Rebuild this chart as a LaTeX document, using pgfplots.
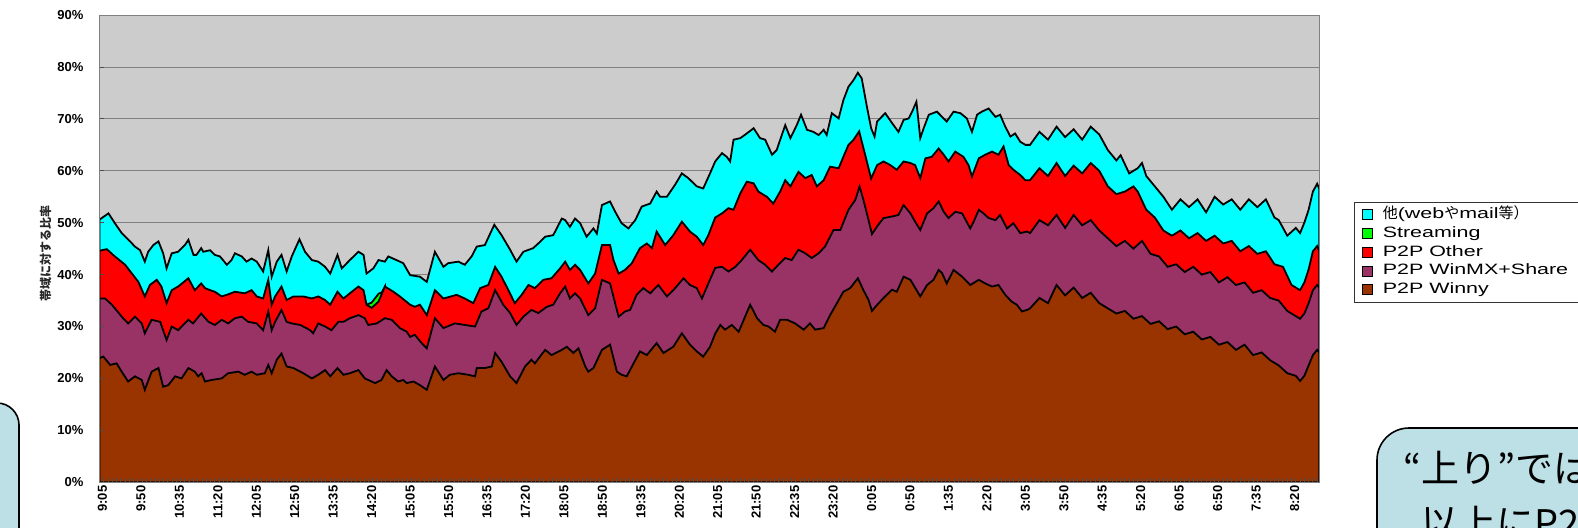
\documentclass[border=0pt]{standalone}
\usepackage{fontspec}
\usepackage{pgfplots}
\pgfplotsset{compat=1.18}
\setmainfont{Liberation Sans}
\newfontfamily\cjk{Noto Sans CJK JP}
\newfontfamily\legfont[FakeStretch=1.43]{Liberation Sans}
\definecolor{cyanA}{RGB}{0,255,255}
\definecolor{greenA}{RGB}{0,255,0}
\definecolor{redA}{RGB}{255,0,0}
\definecolor{purpleA}{RGB}{153,51,102}
\definecolor{brownA}{RGB}{153,51,0}
\definecolor{plotbg}{RGB}{204,204,204}
\definecolor{gridgray}{RGB}{128,128,128}
\definecolor{callout}{RGB}{189,224,230}
\pgfplotsset{
  myframe/.style={
    at={(49.75pt,22.4pt)}, anchor=south west,
    scale only axis, width=609.9pt, height=233.55pt,
    xmin=0, xmax=285.5, ymin=0, ymax=90,
  }
}
\begin{document}
\begin{tikzpicture}
\begin{scope}[x=0.5pt,y=0.5pt]
\clip (0,0) rectangle (1578,527);
\draw[black, line width=0.8pt, fill=callout, rounded corners=11pt] (-60,124) rectangle (19,-60);
\draw[black, line width=0.8pt, fill=callout, rounded corners=16pt] (1377,99) rectangle (1700,-60);
\node[anchor=base west, inner sep=0pt, font=\cjk\fontsize{19}{23}\selectfont] at (1403,45) {“上り”では};
\node[anchor=base west, inner sep=0pt, font=\cjk\fontsize{19}{23}\selectfont] at (1420,-10) {以上にP2P};
\end{scope}
% axis 1: background, grid, areas, legend
\begin{axis}[
  myframe,
  axis background/.style={fill=plotbg},
  axis line style={draw=none},
  ytick={0,10,...,90}, yticklabels={}, xtick=\empty,
  major tick length=0pt,
  ymajorgrids, grid style={draw=gridgray, line width=0.5pt},
  legend cell align=left,
  legend image code/.code={\draw[#1, draw=black, line width=0.5pt] (0pt,-2.5pt) rectangle (5pt,2.5pt);},
  legend style={at={(axis description cs:1.0287,0.6005)}, anchor=north west,
    draw=black!80, line width=0.5pt, fill=white, font=\legfont\fontsize{7.5}{8.5}\selectfont,
    inner xsep=3.5pt, inner ysep=1.5pt, row sep=0pt,
    /tikz/every odd column/.append style={column sep=4pt},
    nodes={inner sep=1pt, text height=5.6pt, text depth=1.8pt}},
]
% total (other traffic) top
\addplot[fill=cyanA, draw=black, line width=0.9pt] coordinates {
(0,50.6) (2.1,51.8) (3.6,49.9) (5.2,48.0) (6.8,46.7) (8.3,45.4) (9.5,44.7) (10.6,42.5) (11.4,44.4) (12.6,45.7)
(13.8,46.4) (14.9,44.1) (15.7,41.2) (16.9,44.1) (18.4,44.4) (20.0,45.7) (20.8,46.7) (22.0,43.8) (22.7,43.8) (23.8,45.1)
(24.3,44.4) (25.9,44.7) (27.0,43.8) (28.2,43.5) (29.8,41.9) (30.9,42.8) (31.7,44.1) (33.3,43.5) (34.4,42.5) (35.6,43.1)
(36.8,42.5) (38.3,40.6) (39.5,44.7) (40.3,39.6) (41.5,42.5) (42.6,43.8) (43.8,40.6) (45.0,43.5) (46.8,46.8) (48.1,44.4)
(49.7,42.8) (51.2,42.5) (52.8,41.5) (54.0,40.2) (55.7,43.8) (56.7,41.2) (58.6,42.8) (60.6,44.4) (61.8,43.8) (62.5,40.2)
(64.1,41.2) (65.3,42.8) (66.8,42.5) (67.6,43.5) (69.5,42.8) (71.1,42.2) (72.7,39.9) (75.0,39.6) (76.6,38.6) (78.5,44.4)
(80.5,41.5) (81.6,42.2) (84.0,42.5) (85.5,41.9) (87.1,43.5) (88.3,45.4) (90.2,45.7) (92.4,49.6) (94.1,47.6) (96.1,44.8)
(97.6,42.5) (99.2,44.4) (101.5,45.1) (102.7,46.0) (104.3,47.3) (106.2,47.6) (108.2,50.8) (109.0,50.5) (110.1,49.2) (111.3,50.8)
(112.5,49.9) (114.0,47.3) (115.6,48.9) (116.4,47.9) (117.6,53.4) (119.5,54.1) (120.7,52.1) (122.2,49.9) (123.8,48.9) (125.4,50.5)
(126.9,53.1) (128.9,53.7) (130.4,56.0) (131.2,55.0) (132.8,55.0) (134.7,57.3) (136.3,59.5) (137.8,58.6) (139.8,57.0) (141.3,56.6)
(142.9,59.5) (144.1,61.8) (145.7,63.4) (146.8,62.7) (147.6,61.8) (148.4,66.0) (150.0,66.3) (151.5,67.2) (153.1,68.2) (154.6,66.3)
(155.8,66.0) (157.4,63.1) (158.5,64.0) (159.7,66.9) (160.5,68.8) (161.7,66.3) (163.2,68.8) (164.2,70.8) (165.6,67.9) (167.1,67.5)
(168.3,66.9) (169.5,67.9) (170.2,66.9) (171.4,71.1) (173.0,70.1) (174.1,73.6) (175.3,76.2) (176.5,77.5) (177.5,78.9) (178.4,77.8)
(179.6,72.4) (180.6,68.2) (181.4,66.6) (182.0,69.5) (183.9,71.1) (185.5,69.2) (187.0,67.5) (188.2,69.8) (189.4,70.1) (190.2,71.4)
(191.2,73.3) (192.1,66.3) (192.9,68.2) (194.1,70.8) (196.0,71.4) (197.2,70.4) (198.3,69.5) (199.9,71.4) (201.5,71.1) (203.0,70.1)
(204.2,67.5) (205.4,70.8) (206.5,71.4) (208.1,72.0) (209.7,70.4) (210.8,70.8) (212.0,68.5) (213.2,66.6) (214.3,67.2) (215.5,65.6)
(216.7,65.0) (217.8,65.0) (220,67.5) (222,66.0) (224,68.5) (226,66.5) (228,68.0) (230,66.0) (232,68.5) (234,67.0)
(236,64.0) (238,62.0) (239,63.0) (241,59.5) (243,60.5) (244,61.5) (245,59.0) (247,57.0) (249,55.0) (251,52.5)
(253,54.5) (255,53.0) (257,54.5) (259,52.0) (261,55.0) (263,53.5) (265,54.5) (267,52.5) (269,54.5) (271,53.0)
(273,54.5) (275,51.0) (276,50.5) (278,47.5) (280,49.0) (281,48.0) (282,50.0) (283,52.5) (284,56.0) (285,57.5) (285.5,56.5)
} \closedcycle;
% streaming (cumulative top), only visible near 14:20
\addplot[fill=greenA, draw=black, line width=0.9pt] coordinates {
(62.5,34.2) (63.7,34.6) (65.3,36.3) (66.1,36.6) (66.8,37.7)
} \closedcycle;
% P2P Other (cumulative top)
\addplot[fill=redA, draw=black, line width=0.9pt] coordinates {
(0,44.6) (1.7,44.9) (3.6,43.5) (6.0,41.9) (7.5,40.3) (9.1,38.6) (10.6,35.8) (11.8,38.0) (13.4,39.0) (14.5,37.7)
(15.7,34.5) (16.9,37.0) (18.4,37.7) (20.8,39.3) (22.3,37.0) (23.8,38.3) (24.7,37.4) (25.9,37.0) (27.0,36.7) (28.6,35.8)
(29.8,36.1) (31.7,36.7) (34.0,36.4) (35.6,37.0) (36.8,35.8) (38.3,35.4) (39.5,39.0) (40.3,34.2) (41.1,35.8) (42.6,37.7)
(43.8,35.1) (45.4,35.8) (47.7,35.8) (49.7,35.4) (51.2,35.8) (52.8,35.1) (54.0,34.2) (55.7,36.7) (57.1,35.4) (58.6,36.4)
(60.6,37.7) (61.8,37.0) (62.5,34.2) (63.7,33.6) (65.3,34.8) (66.8,37.7) (68.8,36.7) (70.3,35.8) (72.7,34.2) (73.8,33.8)
(75.0,34.2) (76.6,32.2) (78.5,37.0) (80.5,35.4) (83.6,36.1) (85.5,35.4) (87.5,34.5) (89.1,37.4) (91.0,38.0) (92.6,41.5)
(94.1,39.6) (95.7,37.0) (97.2,34.5) (98.8,36.1) (100.4,38.0) (101.9,37.4) (103.9,39.0) (105.8,39.3) (107.8,41.2) (109.0,42.5)
(110.1,40.9) (111.3,41.9) (112.5,40.9) (114.4,38.3) (116.0,40.2) (117.6,45.7) (119.5,45.7) (120.3,42.8) (121.5,40.2) (123.0,40.9)
(124.6,42.2) (126.5,45.1) (128.1,46.0) (129.3,45.1) (130.4,48.3) (132.4,45.7) (134.3,47.6) (136.3,50.2) (138.2,48.3) (139.8,47.3)
(141.3,45.7) (142.5,47.6) (144.1,51.0) (145.7,51.8) (147.2,52.8) (148.4,52.5) (150.0,55.7) (151.5,57.9) (153.1,57.6) (154.2,56.0)
(156.2,55.0) (157.7,53.7) (159.3,56.0) (160.5,58.2) (161.7,57.0) (163.6,59.8) (165.2,58.6) (166.7,59.2) (167.9,57.0) (169.5,58.2)
(171.0,60.8) (173.0,60.5) (174.1,62.7) (175.3,65.0) (176.5,66.0) (177.8,67.6) (179.2,63.1) (180.6,58.5) (182.0,61.1) (183.5,61.8)
(185.1,61.1) (186.6,60.2) (188.2,61.8) (189.8,61.5) (190.9,61.1) (192.1,58.6) (193.3,62.4) (194.8,62.7) (196.4,64.3) (197.6,63.1)
(198.7,61.8) (200.3,63.7) (202.2,62.7) (203.4,61.1) (204.2,58.9) (205.8,62.4) (207.3,63.1) (208.9,63.7) (210.4,63.1) (211.6,64.7)
(212.8,61.1) (213.9,60.2) (215.5,59.2) (216.7,58.2) (217.8,58.2) (220,60.5) (222,59.0) (224,61.5) (226,59.0) (228,61.0)
(230,59.5) (232,61.5) (234,60.0) (236,57.0) (238,55.5) (240,56.0) (242,57.0) (243,56.0) (245,52.5) (247,51.0)
(249,48.5) (251,47.5) (253,48.5) (255,47.0) (257,48.0) (259,46.5) (261,47.5) (263,46.0) (265,46.5) (267,44.5)
(269,45.5) (271,44.0) (273,44.5) (275,42.0) (277,41.5) (279,38.0) (281,37.0) (282,38.5) (283,41.0) (284,44.5) (285,45.5) (285.5,44.5)
} \closedcycle;
% P2P WinMX+Share (cumulative top)
\addplot[fill=purpleA, draw=black, line width=0.9pt] coordinates {
(0,35.4) (1.3,35.4) (2.9,34.2) (5.2,31.9) (6.7,30.6) (8.3,31.9) (9.9,30.6) (10.6,28.7) (12.2,31.3) (14.2,30.9)
(15.7,27.4) (16.9,30.0) (18.4,29.3) (20.8,31.3) (21.9,30.6) (23.8,32.5) (25.5,30.9) (27.0,30.3) (28.6,31.3) (30.1,30.6)
(31.7,31.6) (33.3,31.9) (34.8,30.9) (36.8,30.6) (38.3,29.3) (39.5,32.9) (40.3,29.3) (41.1,30.9) (42.6,33.2) (43.8,30.9)
(45.0,30.6) (47.0,30.3) (49.3,29.3) (50.0,28.7) (51.2,30.6) (52.8,30.0) (54.3,29.3) (55.9,30.9) (57.1,30.9) (58.6,31.6)
(60.6,32.2) (62.1,31.6) (62.9,30.3) (64.9,30.6) (66.8,31.6) (68.4,31.3) (70.3,29.7) (71.9,29.0) (72.7,28.0) (73.8,28.4)
(75.4,26.8) (76.6,25.8) (78.5,31.6) (80.5,29.7) (83.2,30.6) (85.5,30.3) (87.9,30.0) (89.4,32.9) (91.0,33.5) (92.6,37.0)
(94.5,34.2) (96.1,32.6) (97.6,30.3) (99.2,31.9) (101.1,33.2) (102.7,32.6) (104.7,33.8) (106.2,34.2) (107.8,36.4) (109.0,37.7)
(110.1,35.4) (111.3,36.4) (112.5,35.4) (114.4,32.2) (116.0,33.5) (117.6,39.0) (119.5,38.3) (121.5,31.9) (123.0,32.9) (124.2,33.2)
(125.7,36.1) (127.3,37.4) (128.9,36.4) (130.8,38.0) (132.8,35.8) (134.3,37.0) (136.7,39.3) (138.2,38.0) (139.8,37.4) (141.0,35.4)
(142.5,38.3) (144.1,41.3) (145.7,41.5) (147.2,40.6) (148.8,41.5) (150.3,42.8) (152.3,44.8) (154.2,42.8) (155.8,41.9) (157.4,40.6)
(158.9,41.9) (160.5,43.2) (162.0,42.8) (163.6,44.8) (165.2,44.1) (166.7,43.2) (168.3,44.1) (169.8,45.4) (171.8,48.6) (173.4,48.6)
(175.3,52.5) (176.9,54.4) (177.9,57.0) (178.8,54.4) (180.0,50.5) (180.8,47.8) (182.0,49.3) (183.5,50.9) (185.5,51.2) (187.0,51.5)
(188.2,53.4) (189.8,51.8) (190.9,50.2) (192.1,48.6) (193.7,51.8) (195.2,52.8) (196.4,54.1) (197.6,52.1) (198.7,50.9) (200.3,52.1)
(201.9,51.8) (203.8,48.9) (204.6,50.2) (205.8,52.5) (206.9,51.8) (208.1,50.9) (209.7,50.5) (210.8,51.5) (212.4,48.9) (213.9,49.9)
(215.5,48.0) (217.1,48.3) (217.8,48.0) (220,50.5) (222,49.5) (224,51.5) (226,49.0) (228,51.5) (230,49.5) (232,50.5)
(234,48.5) (236,47.0) (238,45.5) (240,46.5) (242,45.0) (244,46.5) (246,44.0) (248,43.5) (250,41.5) (252,42.0)
(254,40.5) (256,41.5) (258,40.0) (260,40.5) (262,38.5) (264,39.5) (266,38.0) (268,38.5) (270,36.5) (272,37.0)
(274,35.5) (276,35.0) (278,33.0) (280,32.0) (281,31.5) (282,32.5) (283,34.5) (284,37.0) (285,38.0) (285.5,37.5)
} \closedcycle;
% P2P Winny
\addplot[fill=brownA, draw=black, line width=0.9pt] coordinates {
(0,23.9) (0.9,24.2) (2.5,22.6) (4.0,22.9) (5.2,21.3) (6.7,19.4) (8.3,20.4) (9.9,19.7) (10.6,17.8) (12.2,21.3)
(13.8,22.0) (14.9,18.4) (16.1,18.7) (17.7,20.4) (19.2,20.0) (20.8,22.0) (22.3,21.3) (23.1,20.4) (23.9,21.0) (24.7,19.4)
(26.2,19.7) (28.6,20.0) (30.1,21.0) (32.5,21.3) (34.0,20.7) (35.6,21.3) (36.8,20.7) (38.7,21.0) (39.5,22.6) (40.3,21.0)
(41.5,23.6) (42.6,24.8) (43.8,22.3) (45.4,22.0) (47.7,21.0) (49.7,20.0) (51.2,20.7) (52.8,21.6) (54.0,20.4) (55.7,22.0)
(57.1,20.7) (58.6,21.0) (60.6,21.6) (62.1,20.0) (64.5,19.1) (66.0,19.7) (67.2,21.6) (68.4,20.4) (69.9,19.4) (71.1,19.7)
(71.9,19.1) (73.5,19.4) (75.0,18.7) (76.6,17.8) (78.5,22.3) (80.5,19.7) (82.0,20.7) (84.0,21.0) (86.3,20.7) (87.9,20.4)
(88.3,22.0) (90.2,22.0) (91.8,22.3) (92.6,24.9) (94.1,23.2) (96.1,20.4) (97.6,19.1) (99.6,22.3) (101.1,23.6) (101.9,22.9)
(104.3,25.5) (105.8,24.5) (108.2,25.5) (109.4,26.1) (110.9,24.9) (112.1,25.8) (113.7,22.3) (114.4,21.3) (115.6,22.0) (117.6,25.5)
(119.5,26.5) (121.1,21.3) (122.2,20.7) (123.4,20.4) (125.0,22.9) (126.5,25.2) (128.1,24.5) (130.4,26.8) (132.0,24.9) (134.3,26.1)
(136.3,28.7) (138.2,26.5) (139.8,25.2) (141.3,24.2) (142.9,26.1) (144.1,28.6) (145.3,30.3) (146.4,29.4) (148.0,30.3) (149.6,29.0)
(151.1,31.9) (152.3,34.2) (153.9,31.6) (155.4,30.3) (156.6,30.0) (158.1,29.0) (159.3,31.3) (160.9,31.3) (162.8,30.6) (164.8,29.4)
(166.3,30.6) (167.5,29.4) (169.5,29.7) (171.0,32.2) (172.6,34.5) (174.1,36.7) (175.7,37.4) (177.5,39.3) (178.8,37.0) (180.0,35.1)
(180.8,33.0) (181.6,33.8) (183.5,35.5) (185.5,37.1) (186.6,36.7) (188.2,39.6) (189.8,39.0) (192.1,35.8) (193.7,38.0) (195.2,39.0)
(196.4,40.9) (197.2,40.3) (198.3,38.3) (199.9,40.9) (201.9,39.6) (203.8,38.0) (205.8,39.0) (207.3,38.3) (208.9,37.7) (210.4,38.0)
(212.0,36.1) (213.5,34.8) (214.7,34.2) (215.9,32.9) (217.1,33.2) (217.8,33.5) (220,35.5) (222,34.5) (224,38.0) (226,36.0)
(228,37.5) (230,35.5) (232,36.5) (234,34.5) (236,33.5) (238,32.5) (240,33.0) (242,31.5) (244,32.0) (246,30.5)
(248,31.0) (250,29.5) (252,30.0) (254,28.5) (256,29.0) (258,27.5) (260,28.0) (262,26.5) (264,27.0) (266,25.5)
(268,26.5) (270,24.5) (272,25.0) (274,23.5) (276,22.5) (278,21.0) (280,20.5) (281,19.5) (282,20.5) (283,22.5) (284,24.5) (285,25.5) (285.5,25.0)
} \closedcycle;
\legend{{\cjk 他}(web{\cjk や}mail{\cjk 等）},Streaming,P2P Other,{P2P WinMX+Share\hspace*{20pt}},P2P Winny}
\end{axis}
% axis 2: frame, ticks and labels on top of the areas
\begin{axis}[
  myframe,
  axis line style={draw=gridgray, line width=0.6pt},
  ytick={0,10,...,90},
  yticklabels={0\%,10\%,20\%,30\%,40\%,50\%,60\%,70\%,80\%,90\%},
  xtick={0,9,...,279},
  xticklabels={9:05,9:50,10:35,11:20,12:05,12:50,13:35,14:20,15:05,15:50,16:35,17:20,18:05,18:50,19:35,20:20,21:05,21:50,22:35,23:20,0:05,0:50,1:35,2:20,3:05,3:50,4:35,5:20,6:05,6:50,7:35,8:20},
  minor xtick={0,1,...,285},
  tick pos=left, tick align=inside,
  major tick length=2pt, minor tick length=2pt,
  tick style={black!70, line width=0.5pt},
  x tick label style={rotate=90, anchor=east, font=\fontsize{6.5}{7.5}\selectfont\bfseries, inner sep=1.5pt, yshift=-1.5pt},
  y tick label style={font=\fontsize{6.5}{7.5}\selectfont\bfseries, xshift=-4.5pt},
  ylabel={\cjk\bfseries 帯域に対する比率},
  ylabel style={at={(axis description cs:-0.0443,0.49)}, anchor=center, font=\fontsize{6}{7}\selectfont, text=black!85},
]
\end{axis}
\pgfresetboundingbox
\path[use as bounding box] (0,0) rectangle (789pt,263.5pt);
\end{tikzpicture}
\end{document}
